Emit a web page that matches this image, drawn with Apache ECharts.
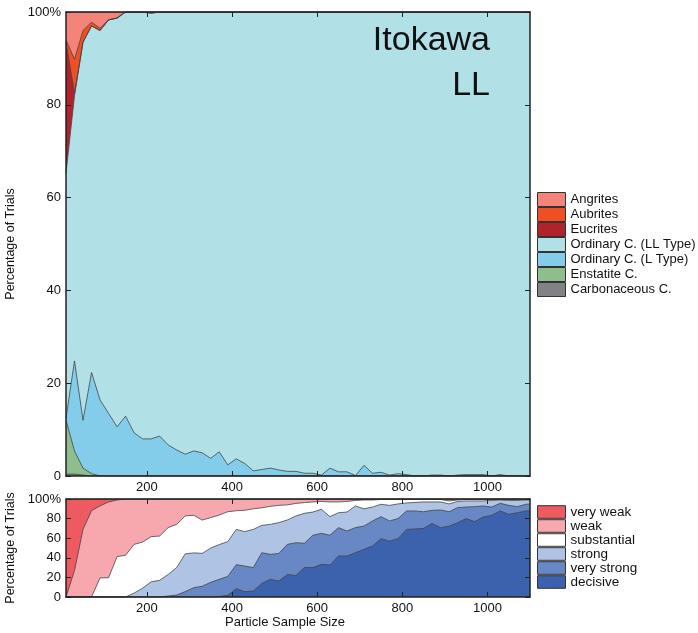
<!DOCTYPE html>
<html><head><meta charset="utf-8">
<script src="https://cdn.jsdelivr.net/npm/echarts@6/dist/echarts.min.js"></script>
<style>html,body{margin:0;padding:0;background:#fff}#c{width:698px;height:633px}</style>
</head><body><div id="c"></div>
<script>
// ---- data ----
const sampleSizes = [10,30,50,70,90,110,130,150,170,190,210,230,250,270,290,310,330,350,370,390,410,430,450,470,490,510,530,550,570,590,610,630,650,670,690,710,730,750,770,790,810,830,850,870,890,910,930,950,970,990,1010,1030,1050,1070,1090,1100];
const xTickValues = [200,400,600,800,1000];

// top panel (percent of trials per meteorite class)
const carbonaceous = [0.4,0.4,0.2,0,0,0,0,0,0,0,0,0,0,0,0,0,0,0,0,0,0,0,0,0,0,0,0,0,0,0,0,0,0,0,0,0,0,0,0,0,0,0,0,0,0,0,0,0,0,0,0,0,0,0,0,0];
const enstatite = [11.6,5.0,1.5,0.5,0,0,0,0,0,0,0,0,0,0,0,0,0,0,0,0,0,0,0,0,0,0,0,0,0,0,0,0,0,0,0,0,0,0,0,0,0,0,0,0,0,0,0,0,0,0,0,0,0,0,0,0];
const ordinaryL = [0.5,19.4,10.3,21.8,16.4,13.5,10.6,12.9,9.3,8.0,8.0,8.6,6.7,5.6,4.7,5.4,5.0,3.8,5.2,2.4,3.7,2.7,1.1,1.4,1.7,1.3,1.0,1.0,0.6,0.6,0.2,1.7,0.9,0.9,0.1,2.3,0.6,0.8,0.2,0.5,0.3,0,0,0.2,0.2,0,0.2,0.3,0.3,0.3,0,0.3,0,0,0,0];
const ordinaryLL = [52.8,57.2,81.5,74.7,79.6,84.8,88.1,87.1,90.7,92.0,91.7,91.4,93.3,94.4,95.3,94.6,95.0,96.2,94.8,97.6,96.3,97.3,98.9,98.6,98.3,98.7,99.0,99.0,99.4,99.4,99.8,98.3,99.1,99.1,99.9,97.7,99.4,99.2,99.8,99.5,99.7,100,100,99.8,99.8,100,99.8,99.7,99.7,99.7,100,99.7,100,100,100,100];
const eucrites = [28.2,0.5,0,0,0,0,0,0,0,0,0.3,0,0,0,0,0,0,0,0,0,0,0,0,0,0,0,0,0,0,0,0,0,0,0,0,0,0,0,0,0,0,0,0,0,0,0,0,0,0,0,0,0,0,0,0,0];
const aubrites = [0.5,7.3,2.5,0.8,0.5,0,0,0,0,0,0,0,0,0,0,0,0,0,0,0,0,0,0,0,0,0,0,0,0,0,0,0,0,0,0,0,0,0,0,0,0,0,0,0,0,0,0,0,0,0,0,0,0,0,0,0];
const angrites = [6,10.2,4,2.2,3.5,1.7,1.3,0,0,0,0,0,0,0,0,0,0,0,0,0,0,0,0,0,0,0,0,0,0,0,0,0,0,0,0,0,0,0,0,0,0,0,0,0,0,0,0,0,0,0,0,0,0,0,0,0];

// bottom panel (evidence strength)
const decisive = [0,0,0,0,0,0,0,0,0,0,0,0,0,0,0,0,0,0,0.5,1.7,8.5,5.4,6.1,13.9,18,16.3,23,22,30,30,33.3,32.7,41.8,41.8,45.2,48.6,52,59.5,57,59.5,69,69.5,70,75,70.7,72.4,75.8,80,77,81.6,83.3,87.8,84.4,86,87.8,88];
const veryStrong = [0,0,0,0,0,0,0,0,0,0,0,0,1,2,5.5,9.5,11,15,17.5,19.3,24.5,26.2,23.9,31.3,25.5,28.2,30.7,33.4,24.8,33,31.7,30.3,29,25.5,25.6,23.8,25.6,22.5,20.6,20.5,18.8,18.3,17,13.4,18.1,14.6,15.4,11.8,15.2,11.3,8.5,7.8,9.1,6.2,6.8,7];
const strong = [0,0,0,0,0,0,0,0,4,9,15.5,17,22,28,38.5,35.5,33.5,35,35.5,35.5,36,35.1,39,27.9,30.6,31.4,24.9,27.3,30.6,23.7,24.5,19,15.2,19.4,22.1,17.6,14.2,12.6,15.9,15,8.2,8.7,10,8.6,8.2,8,6.3,6.2,5.8,5.1,6.7,3.4,5,6.3,4.4,4];
const substantial = [0,0,0,0,19.5,19.7,41.2,42.6,49.7,47,46.1,45.2,47.8,44.1,38.7,38.4,34,31,30.2,30.5,19,21.8,21,17.9,18.4,17.6,15.4,12.8,10.9,10.3,8,15,11,10.8,5.6,9,7.2,4.9,6,4.5,3.7,3.2,2.7,2.7,2.5,3,1.5,1.5,1.7,1.7,1.3,0.8,1.3,1.3,0.8,0.8];
const weak = [0,27,69,88,73.5,77.3,57.8,57.4,46.3,44,38.4,37.8,29.2,25.9,17.3,16.6,21.5,19,16.3,13,12,11.5,10,9,7.5,6.5,6,4.5,3.7,3,2.5,3,3,2.5,1.5,1,1,0.5,0.5,0.5,0.3,0.3,0.3,0.3,0.5,2,1,0.5,0.3,0.3,0.2,0.2,0.2,0.2,0.2,0.2];
const veryWeak = [100,73,31,12,7,3,1,0,0,0,0,0,0,0,0,0,0,0,0,0,0,0,0,0,0,0,0,0,0,0,0,0,0,0,0,0,0,0,0,0,0,0,0,0,0,0,0,0,0,0,0,0,0,0,0,0];

// ---- styles ----
const FONT = "'Liberation Sans', Arial, sans-serif";
// listed bottom-of-stack first
const topSeries = [
  ['Carbonaceous C.', carbonaceous, '#808285'],
  ['Enstatite C.', enstatite, '#8DBE8C'],
  ['Ordinary C. (L Type)', ordinaryL, '#83CDEB'],
  ['Ordinary C. (LL Type)', ordinaryLL, '#B2E0E7'],
  ['Eucrites', eucrites, '#B2222A'],
  ['Aubrites', aubrites, '#F04F24'],
  ['Angrites', angrites, '#F4847A']
];
const botSeries = [
  ['decisive', decisive, '#3D62AD'],
  ['very strong', veryStrong, '#6787C5'],
  ['strong', strong, '#AFC4E4'],
  ['substantial', substantial, '#FFFFFF'],
  ['weak', weak, '#F6A8AE'],
  ['very weak', veryWeak, '#EF5960']
];

// stacked areas: each series drawn from 0 up to its cumulative top,
// upper layers first so lower layers paint over them
function stackedSeries(defs, idx) {
  const running = sampleSizes.map(() => 0);
  const out = defs.map(([name, vals, color]) => {
    const tops = vals.map((v, i) => (running[i] += v));
    return {
      name, type: 'line', xAxisIndex: idx, yAxisIndex: idx,
      symbol: 'none', showSymbol: false, animation: false,
      data: sampleSizes.map((x, i) => [x, Math.min(100, tops[i])]),
      lineStyle: { color: '#454545', width: 0.8 },
      areaStyle: { color, opacity: 1, origin: 'start' },
      itemStyle: { color },
      emphasis: { disabled: true }
    };
  });
  return out.reverse();
}

function xAx(grid, pos, labels, extra) {
  return Object.assign({
    type: 'value', gridIndex: grid, position: pos, min: 10, max: 1100,
    axisLine: { show: true, onZero: false, lineStyle: { color: '#222', width: 1.5 } },
    axisTick: { show: true, inside: true, length: 5, customValues: xTickValues, lineStyle: { color: '#222' } },
    axisLabel: { show: labels, customValues: xTickValues, fontSize: 13, color: '#111', margin: 5, fontFamily: FONT,
      formatter: v => String(v) },
    splitLine: { show: false }, z: 10
  }, extra || {});
}
function yAx(grid, pos, labels, extra) {
  return Object.assign({
    type: 'value', gridIndex: grid, position: pos, min: 0, max: 100, interval: 20,
    axisLine: { show: true, onZero: false, lineStyle: { color: '#222', width: 1.5 } },
    axisTick: { show: true, inside: true, length: 5, lineStyle: { color: '#222' } },
    axisLabel: { show: labels, fontSize: 13, color: '#111', margin: 5, fontFamily: FONT,
      formatter: v => v === 100 ? '100%' : String(v) },
    splitLine: { show: false }, z: 10
  }, extra || {});
}
const yName = { name: 'Percentage of Trials', nameLocation: 'middle', nameGap: 40,
  nameTextStyle: { fontSize: 12.5, color: '#111', fontFamily: FONT } };

function legendFor(defs, top, itemH, fs) {
  const order = defs.slice().reverse();
  return {
    orient: 'vertical', left: 537, top, itemWidth: 28, itemHeight: itemH, itemGap: 0,
    icon: 'rect', selectedMode: false, padding: 0,
    data: order.map(d => ({ name: d[0], itemStyle: { color: d[2], borderColor: '#333', borderWidth: 1 } })),
    textStyle: { fontSize: fs, color: '#111', lineHeight: itemH, fontFamily: FONT }
  };
}

const chart = echarts.init(document.getElementById('c'), null, { renderer: 'canvas' });
chart.setOption({
  animation: false,
  backgroundColor: '#fff',
  grid: [
    { left: 66, top: 12, width: 464, height: 464, outerBoundsMode: 'none' },
    { left: 66, top: 499, width: 464, height: 98, outerBoundsMode: 'none' }
  ],
  xAxis: [
    xAx(0, 'bottom', true),
    xAx(0, 'top', false),
    xAx(1, 'bottom', true, { name: 'Particle Sample Size', nameLocation: 'middle', nameGap: 18,
      nameTextStyle: { fontSize: 13, color: '#111', fontFamily: FONT, padding: [0, 26, 0, 0] } }),
    xAx(1, 'top', false)
  ],
  yAxis: [
    yAx(0, 'left', true, yName),
    yAx(0, 'right', false),
    yAx(1, 'left', true, yName),
    yAx(1, 'right', false)
  ],
  legend: [
    legendFor(topSeries, 192, 14, 13),
    legendFor(botSeries, 505, 12.6, 13.5)
  ],
  graphic: [{
    type: 'text', z: 100,
    x: 490, y: 18,
    style: { text: 'Itokawa\nLL', align: 'right', textAlign: 'right', verticalAlign: 'top',
      font: "34px 'Liberation Sans', Arial, sans-serif", lineHeight: 45, fill: '#111' }
  }],
  series: stackedSeries(topSeries, 0).concat(stackedSeries(botSeries, 2))
});
</script></body></html>
